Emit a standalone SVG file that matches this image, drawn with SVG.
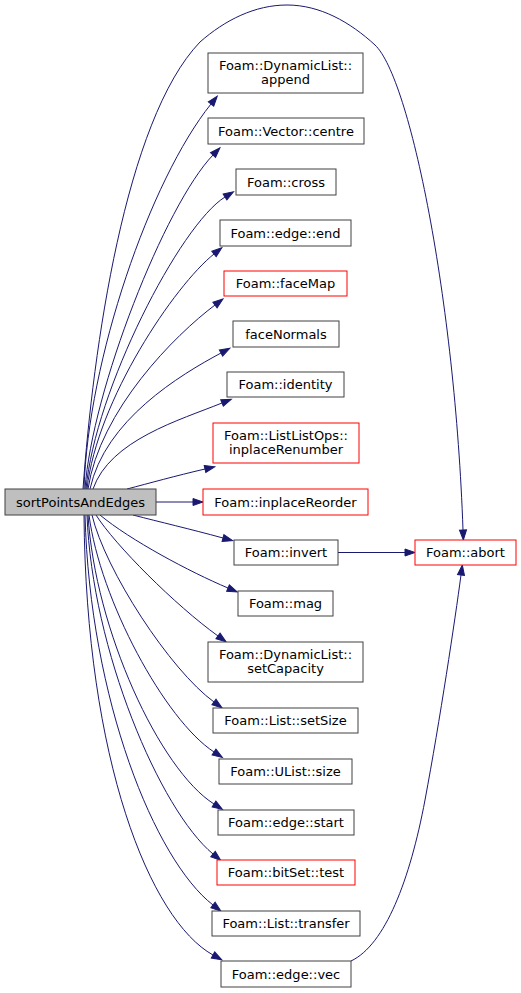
<svg xmlns="http://www.w3.org/2000/svg" width="521" height="993" viewBox="0 0 521 993">
<style>
.n rect{fill:#ffffff;stroke:#404040;stroke-width:1}
.n.red rect{stroke:#ff0000}
.n.src rect{fill:#bfbfbf;stroke:#404040}
.n text{font-family:"DejaVu Sans",sans-serif;font-size:13px;fill:#000000;text-anchor:middle}
#edges path{fill:none;stroke:#191970;stroke-width:1;marker-end:url(#arr)}
</style>
<defs>
<marker id="arr" viewBox="0 -4 10 8" markerWidth="10" markerHeight="8" refX="0" refY="0" orient="auto" markerUnits="userSpaceOnUse" overflow="visible">
<path d="M0,-3.5 L10,0 L0,3.5 Z" fill="#191970" stroke="#191970" stroke-width="1"/>
</marker>
</defs>
<rect width="521" height="993" fill="#ffffff"/>
<g id="edges">
<path d="M83,489 C93,350 125,120 200,42 C225,20 255,5 287,5 C320,5 350,22 375,45 C410,78 455,300 463,530"/>
<path d="M84,489 C88,360 150,180 211,104"/>
<path d="M85,489 C92,390 165,205 213,155"/>
<path d="M86,489 C95,390 180,225 225,197"/>
<path d="M87,489 C97,400 175,285 214,254"/>
<path d="M88,489 C100,410 175,335 215,305"/>
<path d="M90,489 C105,420 180,375 221,353"/>
<path d="M93,489 C110,440 180,420 222,403"/>
<path d="M127,489 C150,483 175,476 205,469"/>
<path d="M156,502 L193,502"/>
<path d="M133,515 C160,522 190,529 223,538"/>
<path d="M100,515 C130,540 190,572 228,588"/>
<path d="M96,515 C115,545 175,605 218,636"/>
<path d="M92,515 C105,570 170,670 214,702"/>
<path d="M89,515 C100,600 165,720 214,752"/>
<path d="M88,515 C95,630 160,770 214,804"/>
<path d="M87,515 C92,650 160,810 213,854"/>
<path d="M85,515 C90,700 155,860 213,905"/>
<path d="M84,515 C86,760 150,920 213,955"/>
<path d="M338,552.5 L405,552.5"/>
<path d="M351,961 C385,945 410,880 425,800 C440,720 455,620 461,575"/>
</g>
<g id="node-sortPointsAndEdges" class="n src"><rect x="5" y="489" width="151" height="26"/><text x="80.5" y="506.5">sortPointsAndEdges</text></g>
<g id="node-append" class="n"><rect x="208" y="53" width="155" height="40"/><text x="285.5" y="69.5">Foam::DynamicList::</text><text x="285.5" y="83.5">append</text></g>
<g id="node-centre" class="n"><rect x="208" y="118" width="156" height="26"/><text x="286" y="135.5">Foam::Vector::centre</text></g>
<g id="node-cross" class="n"><rect x="236" y="169" width="100" height="26"/><text x="286" y="186.5">Foam::cross</text></g>
<g id="node-end" class="n"><rect x="220" y="220" width="131" height="26"/><text x="285.5" y="237.5">Foam::edge::end</text></g>
<g id="node-faceMap" class="n red"><rect x="224" y="271" width="123" height="25"/><text x="285.5" y="288">Foam::faceMap</text></g>
<g id="node-faceNormals" class="n"><rect x="233" y="321" width="106" height="26"/><text x="286" y="338.5">faceNormals</text></g>
<g id="node-identity" class="n"><rect x="227" y="372" width="117" height="25"/><text x="285.5" y="389">Foam::identity</text></g>
<g id="node-inplaceRenumber" class="n red"><rect x="213" y="423" width="146" height="40"/><text x="286" y="439.5">Foam::ListListOps::</text><text x="286" y="453.5">inplaceRenumber</text></g>
<g id="node-inplaceReorder" class="n red"><rect x="203" y="489" width="165" height="26"/><text x="285.5" y="506.5">Foam::inplaceReorder</text></g>
<g id="node-invert" class="n"><rect x="234" y="540" width="104" height="25"/><text x="286" y="557">Foam::invert</text></g>
<g id="node-abort" class="n red"><rect x="415" y="540" width="101" height="25"/><text x="465.5" y="557">Foam::abort</text></g>
<g id="node-mag" class="n"><rect x="238" y="591" width="95" height="25"/><text x="285.5" y="608">Foam::mag</text></g>
<g id="node-setCapacity" class="n"><rect x="208" y="642" width="155" height="40"/><text x="285.5" y="658.5">Foam::DynamicList::</text><text x="285.5" y="672.5">setCapacity</text></g>
<g id="node-setSize" class="n"><rect x="213" y="708" width="145" height="25"/><text x="285.5" y="725">Foam::List::setSize</text></g>
<g id="node-size" class="n"><rect x="219" y="759" width="133" height="25"/><text x="285.5" y="776">Foam::UList::size</text></g>
<g id="node-start" class="n"><rect x="218" y="810" width="136" height="25"/><text x="286" y="827">Foam::edge::start</text></g>
<g id="node-test" class="n red"><rect x="217" y="860" width="138" height="25"/><text x="286" y="877">Foam::bitSet::test</text></g>
<g id="node-transfer" class="n"><rect x="212" y="911" width="148" height="25"/><text x="286" y="928">Foam::List::transfer</text></g>
<g id="node-vec" class="n"><rect x="221" y="961" width="130" height="26"/><text x="286" y="978.5">Foam::edge::vec</text></g>
</svg>
